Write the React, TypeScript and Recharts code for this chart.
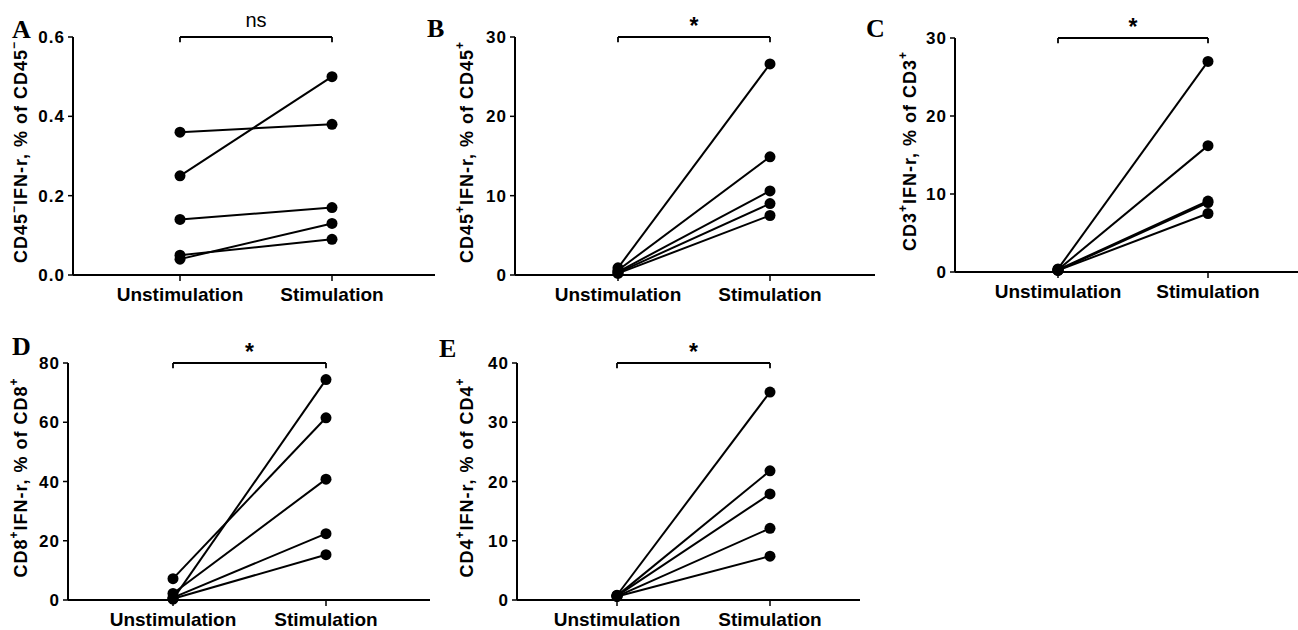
import React from "react";
import { LineChart, Line, XAxis, YAxis, ReferenceLine } from "recharts";

const groups = ["Unstimulation", "Stimulation"];

// A: CD45- IFN-r, % of CD45-
const aUnstim = [0.36, 0.25, 0.14, 0.05, 0.04];
const aStim = [0.38, 0.5, 0.17, 0.09, 0.13];
const aTicks = [0, 0.2, 0.4, 0.6];

// B: CD45+ IFN-r, % of CD45+
const bUnstim = [0.9, 0.6, 0.4, 0.3, 0.2];
const bStim = [26.6, 14.9, 10.6, 9.0, 7.5];
const bTicks = [0, 10, 20, 30];

// C: CD3+ IFN-r, % of CD3+
const cUnstim = [0.4, 0.3, 0.3, 0.2, 0.2];
const cStim = [27.0, 16.2, 9.1, 8.9, 7.5];
const cTicks = [0, 10, 20, 30];

// D: CD8+ IFN-r, % of CD8+
const dUnstim = [0.3, 7.2, 2.2, 0.8, 0.4];
const dStim = [74.4, 61.5, 40.8, 22.4, 15.3];
const dTicks = [0, 20, 40, 60, 80];

// E: CD4+ IFN-r, % of CD4+
const eUnstim = [0.8, 0.7, 0.7, 0.6, 0.6];
const eStim = [35.1, 21.8, 17.9, 12.1, 7.4];
const eTicks = [0, 10, 20, 30, 40];

const FONT = "'Liberation Sans', Arial, Helvetica, sans-serif";
const SERIF = "'Liberation Serif', 'Times New Roman', serif";

function buildRows(unstim: number[], stim: number[]) {
  return groups.map((g, i) => {
    const src = i === 0 ? unstim : stim;
    const row: any = { group: g };
    src.forEach((v, k) => (row["s" + k] = v));
    return row;
  });
}

function AxisTitle({ viewBox, base, sup, dx }: any) {
  const x = viewBox.x + dx;
  const y = viewBox.y + viewBox.height / 2 - 4;
  return (
    <text
      x={x}
      y={y}
      transform={`rotate(-90 ${x} ${y})`}
      textAnchor="middle"
      dominantBaseline="central"
      fontFamily={FONT}
      fontWeight="bold"
      fontSize={18}
      letterSpacing={1}
      fill="#000"
    >
      <tspan>{base}</tspan>
      <tspan dy={-7} fontSize={12}>{sup}</tspan>
      <tspan dy={7}>{`IFN-r, % of ${base}`}</tspan>
      <tspan dy={-7} fontSize={12}>{sup}</tspan>
    </text>
  );
}

type PanelProps = {
  left: number;
  top: number;
  width: number;
  height: number;
  margin: { top: number; right: number; left: number; bottom: number };
  xHeight: number;
  yWidth: number;
  pad: { left: number; right: number };
  unstim: number[];
  stim: number[];
  ticks: number[];
  digits: number;
  base: string;
  sup: string;
  titleX: number;
  sig: string;
};

function Panel(p: PanelProps) {
  const rows = buildRows(p.unstim, p.stim);
  const max = p.ticks[p.ticks.length - 1];
  const drop = max * 0.022;
  const isStar = p.sig === "*";
  return (
    <div style={{ position: "absolute", left: p.left, top: p.top }}>
      <LineChart width={p.width} height={p.height} data={rows} margin={p.margin}>
        <XAxis
          dataKey="group"
          type="category"
          interval={0}
          padding={p.pad}
          height={p.xHeight}
          tickSize={6}
          tickMargin={7}
          axisLine={{ stroke: "#000", strokeWidth: 2 }}
          tickLine={{ stroke: "#000", strokeWidth: 1.5 }}
          tick={{ fill: "#000", fontSize: 19, fontWeight: "bold", fontFamily: FONT }}
        />
        <YAxis
          type="number"
          domain={[0, max]}
          ticks={p.ticks}
          width={p.yWidth}
          tickSize={5}
          tickMargin={3}
          tickFormatter={(v: number) => v.toFixed(p.digits)}
          axisLine={{ stroke: "#000", strokeWidth: 2 }}
          tickLine={{ stroke: "#000", strokeWidth: 1.5 }}
          tick={{ fill: "#000", fontSize: 17, fontWeight: "bold", fontFamily: FONT, letterSpacing: 1 }}
          label={{ content: (lp: any) => <AxisTitle viewBox={lp.viewBox} base={p.base} sup={p.sup} dx={p.titleX} /> }}
        />
        <ReferenceLine
          segment={[{ x: groups[0], y: max }, { x: groups[1], y: max }]}
          stroke="#000"
          strokeWidth={2}
          label={{
            value: p.sig,
            position: "top",
            offset: isStar ? 3 : 10,
            fill: "#000",
            fontSize: isStar ? 23 : 20,
            fontWeight: isStar ? "bold" : "normal",
            fontFamily: FONT,
          }}
        />
        <ReferenceLine segment={[{ x: groups[0], y: max }, { x: groups[0], y: max - drop }]} stroke="#000" strokeWidth={1.8} />
        <ReferenceLine segment={[{ x: groups[1], y: max }, { x: groups[1], y: max - drop }]} stroke="#000" strokeWidth={1.8} />
        {p.unstim.map((_, k) => (
          <Line
            key={k}
            dataKey={"s" + k}
            stroke="#000"
            strokeWidth={2}
            dot={{ r: 5.5, fill: "#000", stroke: "#000", strokeWidth: 0 }}
            activeDot={false}
            isAnimationActive={false}
          />
        ))}
      </LineChart>
    </div>
  );
}

export default function App() {
  return (
    <div style={{ position: "absolute", left: 0, top: 0, width: 1298, height: 630, background: "#fff", overflow: "hidden" }}>
      <Panel
        left={0} top={0} width={440} height={310}
        margin={{ top: 37, right: 5, left: 0, bottom: 0 }}
        xHeight={35} yWidth={73} pad={{ left: 107, right: 103 }}
        unstim={aUnstim} stim={aStim} ticks={aTicks} digits={1}
        base="CD45" sup="−" titleX={21} sig="ns"
      />
      <Panel
        left={420} top={0} width={460} height={310}
        margin={{ top: 37, right: 5, left: 0, bottom: 0 }}
        xHeight={35} yWidth={95} pad={{ left: 103, right: 105 }}
        unstim={bUnstim} stim={bStim} ticks={bTicks} digits={0}
        base="CD45" sup="+" titleX={47} sig="*"
      />
      <Panel
        left={860} top={0} width={438} height={307}
        margin={{ top: 38, right: 0, left: 0, bottom: 0 }}
        xHeight={35} yWidth={95} pad={{ left: 103, right: 90 }}
        unstim={cUnstim} stim={cStim} ticks={cTicks} digits={0}
        base="CD3" sup="+" titleX={50} sig="*"
      />
      <Panel
        left={0} top={310} width={440} height={320}
        margin={{ top: 53, right: 10, left: 0, bottom: 0 }}
        xHeight={30} yWidth={68} pad={{ left: 105, right: 104 }}
        unstim={dUnstim} stim={dStim} ticks={dTicks} digits={0}
        base="CD8" sup="+" titleX={21} sig="*"
      />
      <Panel
        left={420} top={310} width={440} height={320}
        margin={{ top: 53, right: 0, left: 0, bottom: 0 }}
        xHeight={30} yWidth={97} pad={{ left: 100, right: 90 }}
        unstim={eUnstim} stim={eStim} ticks={eTicks} digits={0}
        base="CD4" sup="+" titleX={47} sig="*"
      />
      <svg width={1298} height={630} style={{ position: "absolute", left: 0, top: 0, pointerEvents: "none" }}>
        <g fontFamily={SERIF} fontWeight="bold" fontSize={26} fill="#000">
          <text x={12} y={38}>A</text>
          <text x={427} y={37}>B</text>
          <text x={866} y={37}>C</text>
          <text x={12} y={355}>D</text>
          <text x={439} y={357}>E</text>
        </g>
      </svg>
    </div>
  );
}
